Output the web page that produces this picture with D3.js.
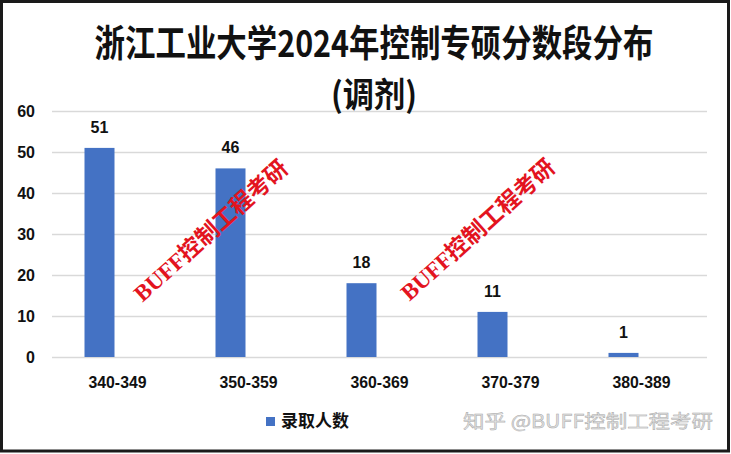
<!DOCTYPE html>
<html>
<head>
<meta charset="utf-8">
<script src="https://cdn.jsdelivr.net/npm/d3@7"></script>
<style>
  html, body { margin: 0; padding: 0; background: #fff; }
  svg { display: block; }
</style>
</head>
<body>
<svg id="chart" width="731" height="454"></svg>
<script>
const categories = ["340-349", "350-359", "360-369", "370-379", "380-389"];
const values = [51, 46, 18, 11, 1];
const yTicks = [0, 10, 20, 30, 40, 50, 60];
const seriesName = "录取人数";
const titleLine1 = "浙江工业大学2024年控制专硕分数段分布";
const titleLine2 = "(调剂)";
const redMark = "BUFF控制工程考研";
const zhihuMark = "知乎 @BUFF控制工程考研";

const svg = d3.select("#chart");
const W = 731, H = 454;
const margin = { left: 52, right: 24, top: 111, bottom: 97 };
const plotW = W - margin.left - margin.right;
const plotH = H - margin.top - margin.bottom;

svg.append("rect").attr("x", 0).attr("y", 0).attr("width", W).attr("height", H).attr("fill", "#fff");

const g = svg.append("g").attr("transform", `translate(${margin.left},${margin.top})`);

const x = d3.scaleBand().domain(categories).range([0, plotW]).padding(0);
const y = d3.scaleLinear().domain([0, 60]).range([plotH, 0]);

// gridlines
const grid = g.append("g").call(d3.axisLeft(y).tickValues(yTicks).tickSize(-plotW).tickFormat(""));
grid.select(".domain").remove();
grid.selectAll("line").attr("stroke", "#d9d9d9").attr("stroke-width", 1.3);

// y labels
const ya = g.append("g").call(d3.axisLeft(y).tickValues(yTicks).tickSize(0).tickPadding(17));
ya.select(".domain").remove();
ya.selectAll("text").attr("font-family", "'Liberation Sans', Arial, sans-serif")
  .attr("font-weight", "bold").attr("font-size", 16).attr("fill", "#111");

// x labels
const xa = g.append("g").attr("transform", `translate(0,${plotH})`)
  .call(d3.axisBottom(x).tickSize(0).tickPadding(20));
xa.select(".domain").remove();
xa.selectAll("text").attr("font-family", "'Liberation Sans', Arial, sans-serif")
  .attr("font-weight", "bold").attr("font-size", 16).attr("fill", "#111")
  .attr("textLength", 58).attr("lengthAdjust", "spacingAndGlyphs");

// bars (first slot of a two-slot cluster, left of category centre)
const bw = 30;
const barX = c => x(c) + x.bandwidth() / 2 - 33;
g.selectAll("rect.bar").data(values).join("rect")
  .attr("class", "bar")
  .attr("x", (d, i) => barX(categories[i]))
  .attr("width", bw)
  .attr("y", d => y(d))
  .attr("height", d => y(0) - y(d))
  .attr("fill", "#4472c4");

g.selectAll("text.val").data(values).join("text")
  .attr("class", "val")
  .attr("x", (d, i) => barX(categories[i]) + bw / 2)
  .attr("y", d => y(d) - 15)
  .attr("text-anchor", "middle")
  .attr("font-family", "'Liberation Sans', Arial, sans-serif")
  .attr("font-weight", "bold").attr("font-size", 16).attr("fill", "#111")
  .text(d => d);

// title (horizontally condensed via scale transform)
function condensed(str, cx, by, size, targetW) {
  const t = svg.append("text").attr("text-anchor", "middle")
    .attr("font-family", "'Noto Sans CJK SC', sans-serif").attr("font-weight", "bold")
    .attr("font-size", size).attr("fill", "#111").text(str);
  const w = t.node().getComputedTextLength();
  t.attr("transform", `translate(${cx},${by}) scale(${targetW / w},1)`);
}
condensed(titleLine1, 374, 57, 37, 559);
condensed(titleLine2, 374, 107, 34, 86);

// legend
svg.append("rect").attr("x", 266).attr("y", 417).attr("width", 9).attr("height", 9).attr("fill", "#4472c4");
svg.append("text").attr("x", 281).attr("y", 427)
  .attr("font-family", "'Noto Sans CJK SC', sans-serif").attr("font-weight", "bold")
  .attr("font-size", 17).attr("fill", "#111")
  .text(seriesName);

// red watermarks
[[211, 231], [478, 230]].forEach(([cx, cy]) => {
  svg.append("text")
    .attr("transform", `translate(${cx},${cy}) rotate(-42)`)
    .attr("text-anchor", "middle").attr("dominant-baseline", "central")
    .attr("font-family", "'Liberation Serif', 'Noto Sans CJK SC', serif")
    .attr("font-weight", "bold").attr("font-size", 23)
    .attr("fill", "#e3141f")
    .text(redMark);
});

// zhihu watermark
svg.append("text").attr("x", 463).attr("y", 428)
  .attr("font-family", "'Noto Sans CJK SC', sans-serif")
  .attr("font-size", 18).attr("fill", "#e2e2e2").attr("stroke", "#a8a8a8").attr("stroke-width", 0.45)
  .attr("textLength", 250).attr("lengthAdjust", "spacingAndGlyphs")
  .text(zhihuMark);

// frame
svg.append("rect").attr("x", 1.5).attr("y", 1.5).attr("width", 727).attr("height", 449.5)
  .attr("fill", "none").attr("stroke", "#1a1a1a").attr("stroke-width", 3);
</script>
</body>
</html>
